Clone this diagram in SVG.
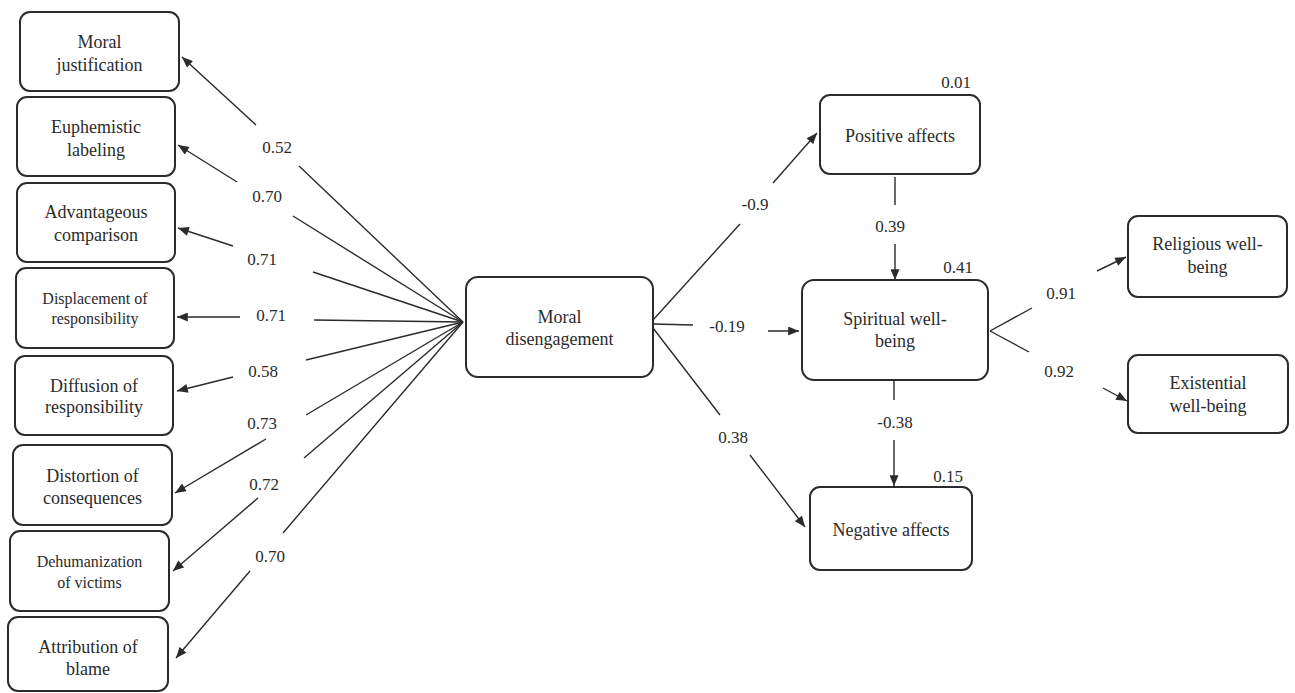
<svg xmlns="http://www.w3.org/2000/svg" width="1295" height="693" viewBox="0 0 1295 693">
<style>
.box{fill:#fff;stroke:#2b2b2b;stroke-width:2}
.t{font-family:"Liberation Serif","Times New Roman",serif;font-size:18px;fill:#2b2b2b;text-anchor:middle}
.s{font-size:16px}
.lbl{font-family:"Liberation Serif","Times New Roman",serif;font-size:17px;fill:#2b2b2b;text-anchor:middle}
.c{fill:none;stroke:#2b2b2b;stroke-width:1.4;marker-end:url(#ah)}
</style>
<defs>
<marker id="ah" viewBox="0 0 12 10" refX="12" refY="5" markerWidth="12" markerHeight="9" markerUnits="userSpaceOnUse" orient="auto">
<path d="M0,0 L12,5 L0,10 z" fill="#2b2b2b"/>
</marker>
</defs>
<rect width="1295" height="693" fill="#fff"/>
<g id="connectors">
<path class="c" d="M463 322 L299 166 M256 125 L182 57"/>
<path class="c" d="M463 322 L293 216 M237 182 L178 145"/>
<path class="c" d="M463 322 L313 272 M233 246 L178 228"/>
<path class="c" d="M463 322 L314 320 M240 317 L177 317"/>
<path class="c" d="M463 322 L306 360 M233 377 L177 391"/>
<path class="c" d="M463 322 L306 415 M266 439 L175 493"/>
<path class="c" d="M463 322 L304 458 M258 498 L173 571"/>
<path class="c" d="M463 322 L283 533 M250 571 L176 658"/>
<path class="c" d="M653 320 L740 224 M773 183 L817 133"/>
<path class="c" d="M653 324 L693 325 M768 331 L799 331"/>
<path class="c" d="M653 328 L720 415 M750 455 L805 527"/>
<path class="c" d="M895 177 L895 205 M895 244 L895 280"/>
<path class="c" d="M894 381 L894 400 M894 440 L894 486"/>
<path class="c" d="M990 331 L1032 308 M1097 271 L1126 257"/>
<path class="c" d="M990 331 L1029 352 M1103 388 L1127 401"/>
<text class="lbl" x="277" y="153">0.52</text>
<text class="lbl" x="267" y="202">0.70</text>
<text class="lbl" x="262" y="265">0.71</text>
<text class="lbl" x="271" y="321">0.71</text>
<text class="lbl" x="263" y="377">0.58</text>
<text class="lbl" x="262" y="429">0.73</text>
<text class="lbl" x="264" y="490">0.72</text>
<text class="lbl" x="270" y="562">0.70</text>
<text class="lbl" x="755" y="210">-0.9</text>
<text class="lbl" x="727" y="332">-0.19</text>
<text class="lbl" x="733" y="443">0.38</text>
<text class="lbl" x="890" y="232">0.39</text>
<text class="lbl" x="895" y="428">-0.38</text>
<text class="lbl" x="1061" y="299">0.91</text>
<text class="lbl" x="1059" y="377">0.92</text>
</g>
<g id="moral-justification"><rect class="box" x="20" y="12" width="159" height="79" rx="10"/><text class="t" x="99.5" y="48">Moral</text><text class="t" x="99.5" y="71">justification</text></g>
<g id="euphemistic-labeling"><rect class="box" x="17" y="97" width="158" height="79" rx="10"/><text class="t" x="96" y="133">Euphemistic</text><text class="t" x="96" y="156">labeling</text></g>
<g id="advantageous-comparison"><rect class="box" x="17" y="183" width="158" height="79" rx="10"/><text class="t" x="96" y="218">Advantageous</text><text class="t" x="96" y="241">comparison</text></g>
<g id="displacement"><rect class="box" x="16" y="268" width="158" height="80" rx="10"/><text class="t s" x="95" y="304">Displacement of</text><text class="t s" x="95" y="324">responsibility</text></g>
<g id="diffusion"><rect class="box" x="15" y="356" width="158" height="79" rx="10"/><text class="t" x="94" y="392">Diffusion of</text><text class="t" x="94" y="413">responsibility</text></g>
<g id="distortion"><rect class="box" x="13" y="445" width="159" height="80" rx="10"/><text class="t" x="92.5" y="482">Distortion of</text><text class="t" x="92.5" y="504">consequences</text></g>
<g id="dehumanization"><rect class="box" x="10" y="531" width="159" height="80" rx="10"/><text class="t s" x="89.5" y="567">Dehumanization</text><text class="t s" x="89.5" y="588">of victims</text></g>
<g id="attribution"><rect class="box" x="8" y="617" width="160" height="74" rx="10"/><text class="t" x="88" y="653">Attribution of</text><text class="t" x="88" y="675">blame</text></g>
<g id="moral-disengagement"><rect class="box" x="466" y="277" width="187" height="100" rx="12"/><text class="t" x="559.5" y="323">Moral</text><text class="t" x="559.5" y="345">disengagement</text></g>
<g id="positive-affects"><rect class="box" x="820" y="95" width="160" height="79" rx="10"/><text class="t" x="900" y="142">Positive affects</text><text class="lbl" x="956" y="88">0.01</text></g>
<g id="spiritual-well-being"><rect class="box" x="802" y="280" width="186" height="100" rx="12"/><text class="t" x="895" y="325">Spiritual well-</text><text class="t" x="895" y="347">being</text><text class="lbl" x="958" y="273">0.41</text></g>
<g id="negative-affects"><rect class="box" x="810" y="487" width="162" height="83" rx="10"/><text class="t" x="891" y="536">Negative affects</text><text class="lbl" x="948" y="482">0.15</text></g>
<g id="religious-well-being"><rect class="box" x="1128" y="216" width="159" height="81" rx="10"/><text class="t" x="1207.5" y="250">Religious well-</text><text class="t" x="1207.5" y="273">being</text></g>
<g id="existential-well-being"><rect class="box" x="1128" y="355" width="160" height="78" rx="10"/><text class="t" x="1208" y="389">Existential</text><text class="t" x="1208" y="412">well-being</text></g>
</svg>
